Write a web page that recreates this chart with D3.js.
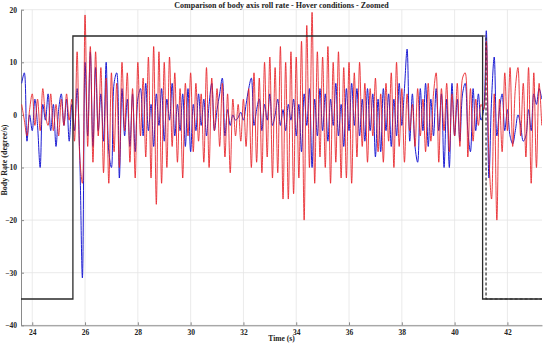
<!DOCTYPE html>
<html>
<head>
<meta charset="utf-8">
<script src="https://cdn.jsdelivr.net/npm/d3@7"></script>
<style>
  body { margin: 0; background: #fff; }
  svg text { font-family: "Liberation Serif", "DejaVu Serif", serif; font-weight: bold; fill: #222; }
  .grid line { stroke: #e4e4e4; stroke-width: 0.8; }
  .axis path, .axis line { stroke: #8a8a8a; }
</style>
</head>
<body>
<div id="chart"></div>
<script>
// sample clock of the two rate traces (s)
const tStart = 23.6;
const tStep = 0.1;

// commanded roll rate (black step) and the delayed drop (dashed)
const stepTimes = [23.57, 25.54, 25.54, 41.06, 41.06, 43.35];
const stepValues = [-35, -35, 15, 15, -35, -35];
const dashTimes = [41.06, 41.19, 41.19, 43.35];
const dashValues = [15, 15, -35, -35];

// measured roll rate, red trace (degree/s)
const redRate = [
  2, -1, -4, 1, 4, -2, 3, -3, 5, 0, -2, 4, -3, 2, -4, 3, -2, 4, -1, 3,
  -5, 12, -8, -13, 19,
  -6, 13, -9, 12, -4, 9, -11, 7, -13, 8, -7, 6, -10, 10, -3, 8, -9, 5, -12, 10,
  -4, 7, -8, 11, -12, 13, -17, 12, -13, 10, -10, 11, -6, 8, -9, 5, -12, 6, -4, 8,
  -7, 6, -5, 4, -9, 9, -10, 7, -3, 5, -6, 6, -8, 4, -11, 3, -4, 2, -5, 3,
  -6, 5, -10, 8, -9, 7, -11, 10, -8, 11, -12, 9, -11, 13, -16, 10, -16, 12, -15, 11,
  -12, 14, -20, 17, -10, 19.5, -13, 12, -8, 11, -10, 13, -13, 10, -9, 12, -12, 9, -12, 10,
  -13, 8, -8, 10, -6, 6, -9, 5, -4, 7, -7, 4, -9, 6, -5, 8, -10, 10, -6, 5,
  -9, 4, -3, 2, -6, 5, -4, 3, -7, 6, -5, 4, 8, -9, 5, -3, 6, -7, 4, -4,
  6, -6, 7, 8, -8, 5, -5, 3, -2, 2,
  1, 14, -8, -16, 4, -20, 3, -7, 8, -3,
  9, -6, 5, 9, -4, 6, -8, 9, -13, 8, -10, 6, -2
];

// measured roll rate, blue trace (degree/s)
const blueRate = [
  6, 8, -5, 0, -3, 3, -2, -10, 2, -1, 4, -3, 2, -6, 1, 4, -2, 3, -5, 2,
  -3, 5, -8, -31, 10,
  -4, 12, -6, 9, -3, 4, -5, 10, -7, -10, 6, 8, -12, 5, -4, 3, -6, 4, -7, 3,
  5, -4, 6, -3, 2, -6, 4, -2, 5, -5, 3, -1, 6, -4, 2, -3, 4, -6, 5, -7,
  2, -3, 4, -2, 3, -4, 2, 6, -3, 1, 4, 7, -4, 1, -2, 0, -1, -0.5, 0.5, -1,
  2, 5, 7, -2, 1, 3, -3, 2, -1, 4, -2, 0, 3, -2, 1, -3, 2, -1, 3, -4,
  2, -7, 4, -2, 5, -10, 3, -4, 5, -3, 4, -5, 3, -2, 6, -4, 2, -6, 5, -3,
  6, -2, 5, -4, 3, -5, 5, -3, 4, -8, 3, -7, 5, -3, 4, -6, 3, -4, 6, -2,
  5, 12.5, -5, 4, -6, -9, 5, -3, 6, -6, 3, -4, 5, -3, 4, -10, 3, -10, 6, -4,
  3, -5, 4, 6, -3, -7, 5, -3, 4, -1,
  1, 16, -12, 3, 11, -4, 1, 4, -3, 1,
  -4, -5.5, -3, 0, -2, -5, -4, 1, -3, 4, 2, 5, 3
];

const xTicks = [24, 26, 28, 30, 32, 34, 36, 38, 40, 42];
const yTicks = [-40, -30, -20, -10, 0, 10, 20];

const width = 546, height = 343;
const margin = {top: 9.7, right: 4, bottom: 17.7, left: 21};
const innerW = width - margin.left - margin.right;
const innerH = height - margin.top - margin.bottom;

const svg = d3.select("#chart").append("svg")
  .attr("width", width)
  .attr("height", height);

const x = d3.scaleLinear().domain([23.574, 43.31]).range([0, innerW]);
const y = d3.scaleLinear().domain([-40, 20]).range([innerH, 0]);

const g = svg.append("g").attr("transform", `translate(${margin.left},${margin.top})`);

g.append("clipPath").attr("id", "plot-clip")
  .append("rect").attr("width", innerW).attr("height", innerH);

// grid
g.append("g").attr("class", "grid")
  .selectAll("line").data(xTicks).join("line")
  .attr("x1", d => x(d)).attr("x2", d => x(d))
  .attr("y1", 0).attr("y2", innerH);
g.append("g").attr("class", "grid")
  .selectAll("line").data(yTicks).join("line")
  .attr("x1", 0).attr("x2", innerW)
  .attr("y1", d => y(d)).attr("y2", d => y(d));

// axes, ticks point inwards like matlab
g.append("g").attr("class", "axis")
  .attr("transform", `translate(0,${innerH})`)
  .call(d3.axisBottom(x).tickValues(xTicks).tickSizeInner(-3).tickSizeOuter(0).tickPadding(4));
g.append("g").attr("class", "axis")
  .call(d3.axisLeft(y).tickValues(yTicks).tickSizeInner(-3).tickSizeOuter(0).tickPadding(4));
svg.selectAll(".axis text").style("font-size", "7.5px");

const plot = g.append("g").attr("clip-path", "url(#plot-clip)");

const rateLine = d3.line()
  .curve(d3.curveCatmullRom.alpha(0.5))
  .x((d, i) => x(tStart + i * tStep))
  .y(d => y(d));

plot.append("path").datum(blueRate)
  .attr("d", rateLine)
  .attr("fill", "none")
  .attr("stroke", "#1c1cd2")
  .attr("stroke-width", 1);

plot.append("path").datum(redRate)
  .attr("d", rateLine)
  .attr("fill", "none")
  .attr("stroke", "#e81e24")
  .attr("stroke-opacity", 0.85)
  .attr("stroke-width", 1);

const stepLine = d3.line()
  .x(d => x(d[0]))
  .y(d => y(d[1]));

plot.append("path").datum(d3.zip(dashTimes, dashValues))
  .attr("d", stepLine)
  .attr("fill", "none")
  .attr("stroke", "#2a2a2a")
  .attr("stroke-width", 1.2)
  .attr("stroke-dasharray", "3,2");

plot.append("path").datum(d3.zip(stepTimes, stepValues))
  .attr("d", stepLine)
  .attr("fill", "none")
  .attr("stroke", "#2a2a2a")
  .attr("stroke-width", 1.3);

// titles
svg.append("text")
  .attr("x", margin.left + innerW / 2).attr("y", 7.5)
  .attr("text-anchor", "middle")
  .style("font-size", "8px")
  .text("Comparison of body axis roll rate - Hover conditions - Zoomed");

svg.append("text")
  .attr("x", margin.left + innerW / 2).attr("y", 341)
  .attr("text-anchor", "middle")
  .style("font-size", "7.5px")
  .text("Time (s)");

svg.append("text")
  .attr("transform", "translate(7,160) rotate(-90)")
  .attr("text-anchor", "middle")
  .style("font-size", "8px")
  .text("Body Rate (degree/s)");
</script>
</body>
</html>
